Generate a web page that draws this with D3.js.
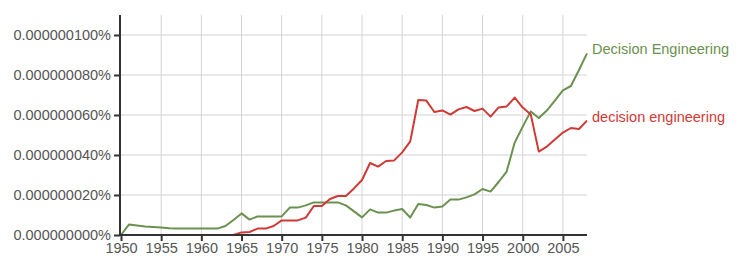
<!DOCTYPE html>
<html>
<head>
<meta charset="utf-8">
<script src="https://cdn.jsdelivr.net/npm/d3@7/dist/d3.min.js"></script>
<style>
  body { margin: 0; background: #fff; }
  svg { display: block; font-family: "Liberation Sans", Arial, sans-serif; }
</style>
</head>
<body>
<div id="chart"></div>
<script>
'use strict';

// years 1950..2008, values in units of 0.000000001%
const years = d3.range(1950, 2009);

const upperValues = [
    0.0, 5.3, 4.8, 4.3, 4.0, 3.7, 3.4, 3.2, 3.2, 3.2,
    3.2, 3.2, 3.2, 4.5, 7.5, 10.8, 7.7, 9.3, 9.3, 9.3,
    9.3, 13.7, 13.7, 14.8, 16.3, 16.3, 16.3, 16.3, 14.8, 11.8,
    8.8, 12.8, 11.2, 11.2, 12.2, 13.0, 8.7, 15.5, 15.0, 13.7,
    14.3, 17.7, 17.7, 18.8, 20.3, 23.0, 21.7, 26.5, 31.7, 46.2,
    54.2, 61.8, 58.5, 62.2, 67.2, 72.3, 74.5, 82.5, 90.8
];

const lowerValues = [
    0, 0, 0, 0, 0, 0, 0, 0, 0, 0,
    0, 0, 0, 0, 0, 1.3, 1.5, 3.2, 3.2, 4.5,
    7.3, 7.3, 7.3, 8.7, 14.5, 14.5, 18.0, 19.5, 19.5, 23.3,
    27.5, 36.0, 34.2, 37.0, 37.3, 41.3, 46.8, 67.5, 67.2, 61.5,
    62.3, 60.2, 62.8, 64.0, 62.0, 63.2, 59.2, 63.8, 64.3, 68.7,
    63.7, 60.3, 41.7, 44.2, 47.8, 51.2, 53.5, 53.0, 57.2
];

const seriesNames = ['Decision Engineering', 'decision engineering'];
const seriesColors = ['#6b9150', '#d03a36'];
const yTicks = [0, 20, 40, 60, 80, 100];
const xTicks = d3.range(1950, 2006, 5);

const W = 741, H = 265;
const margin = { left: 120, right: 154, top: 15, bottom: 30 };
const fontSize = 14.5;

const svg = d3.select('#chart').append('svg')
    .attr('width', W).attr('height', H);

const x = d3.scaleLinear().domain([1950, 2008]).range([margin.left + 1, W - margin.right]);
const y = d3.scaleLinear().domain([0, 110]).range([H - margin.bottom, margin.top]);

// grid
svg.append('g').selectAll('line.v')
    .data(xTicks.slice(1))
    .join('line')
    .attr('x1', d => x(d)).attr('x2', d => x(d))
    .attr('y1', y(110)).attr('y2', y(0))
    .attr('stroke', '#d4d4d4').attr('stroke-width', 1);

svg.append('g').selectAll('line.h')
    .data(yTicks.slice(1))
    .join('line')
    .attr('x1', margin.left).attr('x2', x(2008))
    .attr('y1', d => y(d)).attr('y2', d => y(d))
    .attr('stroke', '#d4d4d4').attr('stroke-width', 1);

// series lines + end labels
const line = d3.line().x((d, i) => x(years[i])).y(d => y(d));
[upperValues, lowerValues].forEach((vals, k) => {
    svg.append('path')
        .datum(vals)
        .attr('d', line)
        .attr('fill', 'none')
        .attr('stroke', seriesColors[k])
        .attr('stroke-width', 2)
        .attr('stroke-linejoin', 'round');
    svg.append('text')
        .attr('x', x(2008) + 5)
        .attr('y', y(vals[vals.length - 1]) - 4)
        .attr('dy', '0.35em')
        .attr('font-size', fontSize)
        .attr('fill', seriesColors[k])
        .text(seriesNames[k]);
});

// axes
const yAxis = d3.axisLeft(y).tickValues(yTicks).tickSize(6).tickPadding(3)
    .tickFormat(d => '0.' + String(d).padStart(9, '0') + '%');
const xAxis = d3.axisBottom(x).tickValues(xTicks).tickSize(6).tickPadding(2)
    .tickFormat(d3.format('d'));

const gy = svg.append('g').attr('transform', `translate(${margin.left},0)`).call(yAxis);
const gx = svg.append('g').attr('transform', `translate(0,${H - margin.bottom})`).call(xAxis);

[gy, gx].forEach(g => {
    g.select('.domain').attr('stroke', '#333').attr('stroke-width', 2);
    g.selectAll('.tick line').attr('stroke', '#333').attr('stroke-width', 2);
    g.selectAll('.tick text').attr('font-size', fontSize).attr('fill', '#555')
        .attr('font-family', '"Liberation Sans", Arial, sans-serif');
});
gx.select('.domain').attr('d', `M${margin.left},0H${x(2008)}`);
gy.select('.domain').attr('d', `M0,${y(110)}V${y(0)}`);
</script>
</body>
</html>
